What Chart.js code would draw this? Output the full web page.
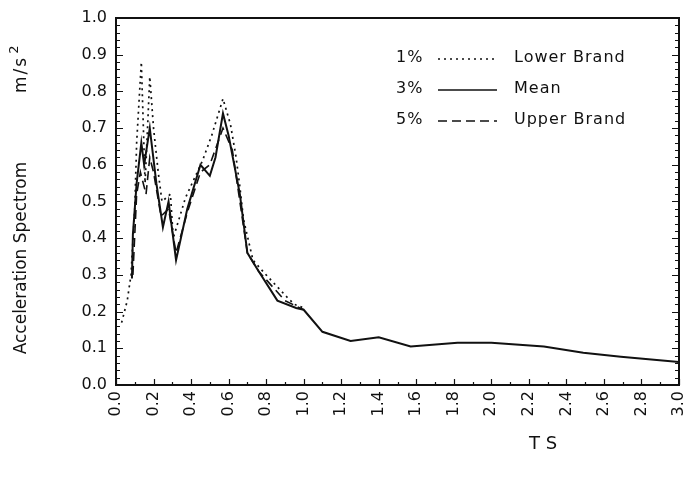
<!DOCTYPE html>
<html>
<head>
<meta charset="utf-8">
<script src="https://cdn.jsdelivr.net/npm/chart.js@4/dist/chart.umd.min.js"></script>
<style>
  body { margin: 0; background: #fff; }
  canvas { display: block; }
</style>
</head>
<body>
<canvas id="grafico" width="687" height="484"></canvas>
<script>
const lowerT = [0.03, 0.06, 0.08, 0.10, 0.11, 0.135, 0.155, 0.18, 0.20, 0.225, 0.245, 0.29, 0.305, 0.37, 0.46, 0.51, 0.57, 0.61, 0.64, 0.66, 0.68, 0.73, 0.80, 0.91, 0.95, 1.0];
const lowerA = [0.17, 0.23, 0.30, 0.48, 0.66, 0.88, 0.55, 0.84, 0.70, 0.58, 0.50, 0.52, 0.40, 0.51, 0.61, 0.68, 0.78, 0.71, 0.62, 0.54, 0.45, 0.34, 0.30, 0.24, 0.22, 0.21];

const meanT = [0.085, 0.09, 0.11, 0.135, 0.15, 0.18, 0.215, 0.25, 0.28, 0.32, 0.38, 0.45, 0.50, 0.53, 0.57, 0.60, 0.66, 0.70, 0.76, 0.86, 0.96, 1.0, 1.1, 1.25, 1.4, 1.57, 1.82, 2.0, 2.28, 2.49, 2.69, 3.0];
const meanA = [0.29, 0.41, 0.55, 0.66, 0.60, 0.70, 0.55, 0.43, 0.50, 0.34, 0.48, 0.60, 0.57, 0.62, 0.74, 0.68, 0.52, 0.36, 0.31, 0.23, 0.21, 0.205, 0.145, 0.12, 0.13, 0.105, 0.115, 0.115, 0.105, 0.088, 0.077, 0.063];

const upperT = [0.09, 0.11, 0.13, 0.16, 0.18, 0.20, 0.24, 0.28, 0.32, 0.38, 0.45, 0.50, 0.57, 0.62, 0.66, 0.70, 0.76, 0.90, 1.0];
const upperA = [0.30, 0.52, 0.58, 0.52, 0.62, 0.58, 0.46, 0.48, 0.36, 0.47, 0.58, 0.60, 0.70, 0.64, 0.50, 0.36, 0.31, 0.23, 0.205];

const seriesNames = ['Lower Brand', 'Mean', 'Upper Brand'];
const dampings = ['1%', '3%', '5%'];
const xTitle = 'T S';
const yTitle = 'Acceleration Spectrom';
const yUnit = 'm/s';
const yUnitExp = '2';

const FONT = "'DejaVu Sans', sans-serif";
const INK = '#111';
const dashes = [[2, 4], [], [9, 5]];

function puntos(ts, as) {
    return ts.map((t, i) => ({ x: t, y: as[i] }));
}

// Caja, marcas interiores, leyenda y titulos
const marcoPlugin = {
    id: 'marco',
    afterDraw(chart) {
        const { ctx, chartArea: a, scales } = chart;
        ctx.save();
        ctx.strokeStyle = INK;
        ctx.lineWidth = 2;
        ctx.strokeRect(a.left, a.top, a.right - a.left, a.bottom - a.top);

        ctx.lineWidth = 1.2;
        ctx.beginPath();
        for (let v = 0; v <= 1.0001; v += 0.02) {
            const y = Math.round(scales.y.getPixelForValue(v)) + 0.5;
            const major = Math.abs(v * 10 - Math.round(v * 10)) < 0.01;
            ctx.moveTo(a.left, y);
            ctx.lineTo(a.left + (major ? 7 : 4), y);
            ctx.moveTo(a.right, y);
            ctx.lineTo(a.right - (major ? 7 : 4), y);
        }
        for (let t = 0; t <= 3.0001; t += 0.1) {
            const x = Math.round(scales.x.getPixelForValue(t)) + 0.5;
            const major = Math.abs(t * 5 - Math.round(t * 5)) < 0.01;
            ctx.moveTo(x, a.bottom);
            ctx.lineTo(x, a.bottom - (major ? 6 : 3));
        }
        ctx.stroke();

        // leyenda
        ctx.font = '16px ' + FONT;
        ctx.fillStyle = INK;
        ctx.textBaseline = 'middle';
        if ('letterSpacing' in ctx) ctx.letterSpacing = '1px';
        const filas = [58, 89, 120];
        seriesNames.forEach((nombre, i) => {
            const y = filas[i];
            ctx.textAlign = 'left';
            ctx.fillText(dampings[i], 396, y);
            ctx.fillText(nombre, 514, y);
            ctx.beginPath();
            ctx.setLineDash(dashes[i]);
            ctx.lineWidth = 1.6;
            ctx.moveTo(438, y + 1);
            ctx.lineTo(497, y + 1);
            ctx.stroke();
        });
        ctx.setLineDash([]);

        // titulo eje X
        ctx.font = '18px ' + FONT;
        ctx.letterSpacing = '0px';
        ctx.textAlign = 'center';
        ctx.fillText(xTitle, 543, 444);

        // titulo eje Y (girado)
        ctx.translate(22, 0);
        ctx.rotate(-Math.PI / 2);
        ctx.font = '17px ' + FONT;
        ctx.textAlign = 'center';
        ctx.fillText(yTitle, -258, 0);
        ctx.textAlign = 'left';
        ctx.letterSpacing = '2px';
        ctx.fillText(yUnit, -93, 0);
        const w = ctx.measureText(yUnit).width;
        ctx.font = '13px ' + FONT;
        ctx.fillText(yUnitExp, -93 + w + 2, -7);
        ctx.restore();
    }
};

const ctx = document.getElementById('grafico').getContext('2d');
new Chart(ctx, {
    type: 'line',
    data: {
        datasets: [
            { label: seriesNames[0], data: puntos(lowerT, lowerA), borderDash: dashes[0], borderWidth: 1.7 },
            { label: seriesNames[1], data: puntos(meanT, meanA), borderDash: dashes[1], borderWidth: 2 },
            { label: seriesNames[2], data: puntos(upperT, upperA), borderDash: dashes[2], borderWidth: 1.6 }
        ]
    },
    options: {
        responsive: false,
        animation: false,
        layout: { padding: { top: 18, right: 8, left: 0, bottom: 0 } },
        elements: {
            point: { radius: 0 },
            line: { borderColor: INK, tension: 0, fill: false }
        },
        plugins: {
            legend: { display: false },
            tooltip: { enabled: false }
        },
        scales: {
            x: {
                type: 'linear',
                min: 0,
                max: 3,
                grid: { display: false, drawTicks: false },
                border: { display: false },
                ticks: {
                    stepSize: 0.2,
                    minRotation: 90,
                    maxRotation: 90,
                    padding: 6,
                    color: INK,
                    font: { family: FONT, size: 16 },
                    callback: v => v.toFixed(1)
                },
                afterFit(scale) {
                    scale.height = 99;
                    scale.paddingLeft = 0;
                    scale.paddingRight = 0;
                }
            },
            y: {
                min: 0,
                max: 1,
                grid: { display: false, drawTicks: false },
                border: { display: false },
                ticks: {
                    stepSize: 0.1,
                    padding: 9,
                    color: INK,
                    font: { family: FONT, size: 16 },
                    callback: v => v.toFixed(1)
                },
                afterFit(scale) {
                    scale.width = 116;
                    scale.paddingTop = 0;
                    scale.paddingBottom = 0;
                }
            }
        }
    },
    plugins: [marcoPlugin]
});
</script>
</body>
</html>
